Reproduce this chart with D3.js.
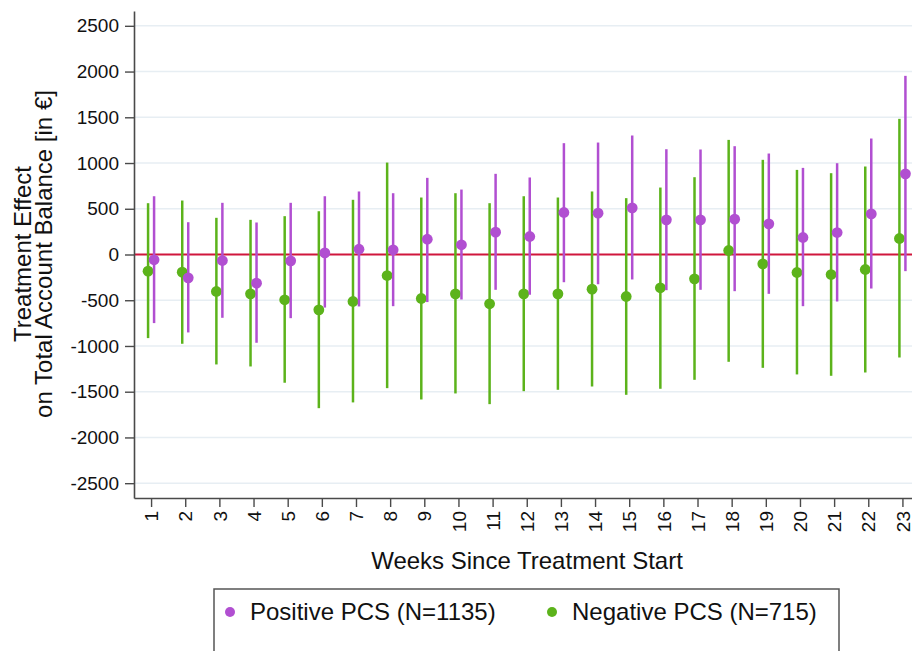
<!DOCTYPE html>
<html>
<head>
<meta charset="utf-8">
<script src="https://cdn.jsdelivr.net/npm/d3@7"></script>
<style>
  html, body { margin: 0; padding: 0; background: #fff; }
  svg { display: block; font-family: "Liberation Sans", Arial, sans-serif; }
</style>
</head>
<body>
<svg id="chart" width="912" height="651"></svg>
<script>
// Weekly treatment effects with confidence intervals, by PCS group
const weeks = d3.range(1, 24);

const posEst = [-58, -255, -66, -313, -69, 18, 58, 51, 167, 106, 244, 197, 459, 452, 510, 379, 379, 386, 335, 186, 240, 444, 882];
const posLo  = [-750, -852, -692, -965, -696, -580, -568, -565, -520, -492, -386, -440, -303, -325, -273, -390, -386, -401, -430, -565, -514, -372, -182];
const posHi  = [637, 353, 565, 350, 565, 637, 689, 670, 838, 710, 882, 842, 1217, 1224, 1301, 1151, 1148, 1184, 1104, 947, 998, 1268, 1953];

const negEst = [-182, -193, -404, -430, -495, -605, -514, -230, -481, -430, -539, -430, -430, -379, -459, -364, -266, 44, -102, -197, -219, -164, 175];
const negLo  = [-914, -976, -1202, -1224, -1402, -1680, -1617, -1461, -1585, -1519, -1636, -1494, -1479, -1443, -1534, -1468, -1370, -1173, -1239, -1311, -1326, -1290, -1126];
const negHi  = [561, 590, 401, 379, 419, 473, 598, 1005, 623, 670, 561, 637, 623, 689, 616, 732, 845, 1253, 1035, 925, 889, 962, 1483];

const yTicks = [-2500, -2000, -1500, -1000, -500, 0, 500, 1000, 1500, 2000, 2500];

const seriesNames = ["Positive PCS (N=1135)", "Negative PCS (N=715)"];
const seriesColors = ["#b14fd1", "#5cb31b"];

const svg = d3.select("#chart");
const W = 912;

const x = d3.scaleLinear().domain([0.5, 23.5]).range([134, 919.5]);
const y = d3.scaleLinear().domain([-2662, 2662]).range([498, 11]);

// horizontal gridlines
svg.append("g")
  .selectAll("line")
  .data(yTicks.filter(d => d !== 0))
  .join("line")
  .attr("x1", 134).attr("x2", W)
  .attr("y1", d => y(d)).attr("y2", d => y(d))
  .attr("stroke", "#e7eef3")
  .attr("stroke-width", 1.5);

// reference line at zero
svg.append("line")
  .attr("x1", 134).attr("x2", W)
  .attr("y1", y(0)).attr("y2", y(0))
  .attr("stroke", "#d0163c")
  .attr("stroke-width", 2);

// axes
const yAxis = svg.append("g")
  .attr("transform", "translate(134,0)")
  .call(d3.axisLeft(y).tickValues(yTicks).tickFormat(d => String(d))
    .tickSize(9).tickSizeOuter(0).tickPadding(6));
yAxis.select(".domain").attr("stroke", "#4a4a4a").attr("stroke-width", 1.6);
yAxis.selectAll(".tick line").attr("stroke", "#4a4a4a").attr("stroke-width", 1.4);
yAxis.selectAll(".tick text").attr("font-size", 19).attr("fill", "#111")
  .attr("font-family", "Liberation Sans, Arial, sans-serif");

const xAxis = svg.append("g")
  .attr("transform", "translate(0,498)")
  .call(d3.axisBottom(x).tickValues(weeks).tickFormat(d => String(d))
    .tickSize(9).tickSizeOuter(0));
xAxis.select(".domain").attr("stroke", "#4a4a4a").attr("stroke-width", 1.6);
xAxis.selectAll(".tick line").attr("stroke", "#4a4a4a").attr("stroke-width", 1.4);
xAxis.selectAll(".tick text")
  .attr("font-size", 19).attr("fill", "#111")
  .attr("font-family", "Liberation Sans, Arial, sans-serif")
  .attr("transform", "rotate(-90)")
  .attr("text-anchor", "end")
  .attr("x", -13).attr("y", 0).attr("dy", "0.35em");

// axis titles
svg.append("text")
  .attr("x", 527).attr("y", 569)
  .attr("text-anchor", "middle")
  .attr("font-size", 24).attr("fill", "#111")
  .text("Weeks Since Treatment Start");

const yTitle = svg.append("g").attr("transform", "translate(0,254) rotate(-90)");
yTitle.append("text")
  .attr("x", 0).attr("y", 31)
  .attr("text-anchor", "middle")
  .attr("font-size", 24).attr("fill", "#111")
  .text("Treatment Effect");
yTitle.append("text")
  .attr("x", 0).attr("y", 52)
  .attr("text-anchor", "middle")
  .attr("font-size", 24).attr("fill", "#111")
  .text("on Total Account Balance [in €]");

// build series records
const negData = weeks.map((w, i) => ({ w, est: negEst[i], lo: negLo[i], hi: negHi[i] }));
const posData = weeks.map((w, i) => ({ w, est: posEst[i], lo: posLo[i], hi: posHi[i] }));

function drawSeries(data, color, offset) {
  const g = svg.append("g");
  g.selectAll("line")
    .data(data)
    .join("line")
    .attr("x1", d => x(d.w) + offset).attr("x2", d => x(d.w) + offset)
    .attr("y1", d => y(d.lo)).attr("y2", d => y(d.hi))
    .attr("stroke", color)
    .attr("stroke-width", 2.5);
  g.selectAll("circle")
    .data(data)
    .join("circle")
    .attr("cx", d => x(d.w) + offset)
    .attr("cy", d => y(d.est))
    .attr("r", 5.4)
    .attr("fill", color);
}

drawSeries(negData, seriesColors[1], -3);
drawSeries(posData, seriesColors[0], 3);

// legend
const legend = svg.append("g");
legend.append("rect")
  .attr("x", 214).attr("y", 589)
  .attr("width", 625).attr("height", 80)
  .attr("fill", "#fff")
  .attr("stroke", "#555")
  .attr("stroke-width", 1.5);

const legendItems = [
  { name: seriesNames[0], color: seriesColors[0], cx: 230, tx: 250 },
  { name: seriesNames[1], color: seriesColors[1], cx: 552, tx: 572 }
];
legend.selectAll("circle")
  .data(legendItems)
  .join("circle")
  .attr("cx", d => d.cx).attr("cy", 612)
  .attr("r", 5)
  .attr("fill", d => d.color);
legend.selectAll("text")
  .data(legendItems)
  .join("text")
  .attr("x", d => d.tx).attr("y", 620)
  .attr("font-size", 24).attr("fill", "#111")
  .text(d => d.name);
</script>
</body>
</html>
